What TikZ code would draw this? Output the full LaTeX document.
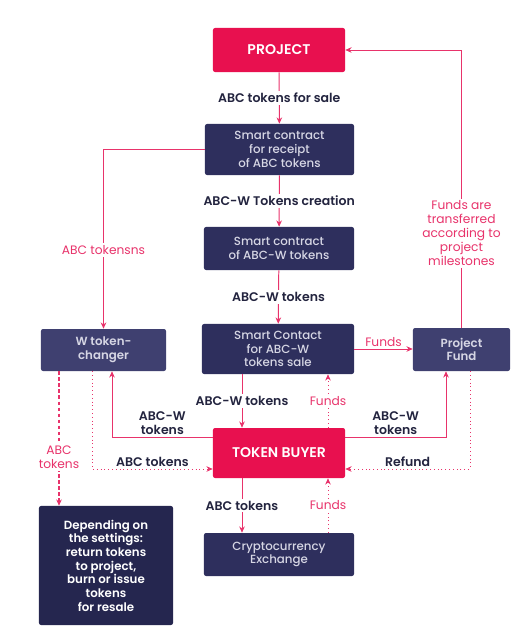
\documentclass[tikz,border=0pt]{standalone}
\usepackage{fontspec}
\setmainfont{Poppins}[BoldFont={Poppins SemiBold}]
\newfontfamily\medfont{Poppins Medium}
\usetikzlibrary{arrows.meta}
\definecolor{crimson}{HTML}{E8104F}
\definecolor{navy}{HTML}{2E2F5D}
\definecolor{navylt}{HTML}{3F4070}
\definecolor{navydk}{HTML}{25264F}
\definecolor{pinkln}{HTML}{E8336B}
\definecolor{inkdark}{HTML}{23243F}
\definecolor{boxtxt}{HTML}{D6D6E4}

\tikzset{
  box/.style={rounded corners=1.5pt, align=center, inner sep=2pt, text=boxtxt, font=\fontsize{8.4}{9.7}\selectfont\medfont},
  redbox/.style={box, fill=crimson, text=white, font=\fontsize{10}{11}\selectfont\bfseries},
  flow/.style={draw=pinkln, line width=0.7pt, -{Stealth[length=4.5pt,width=4pt]}},
  dotflow/.style={flow, dotted},
  dashflow/.style={flow, dash pattern=on 2.5pt off 1.8pt, line width=1pt},
  lbl/.style={font=\fontsize{8.9}{9.7}\selectfont\bfseries, text=inkdark, align=center, fill=white, inner sep=1.5pt},
  plbl/.style={font=\fontsize{8.7}{9.9}\selectfont, text=pinkln, align=center, fill=white, inner sep=1.5pt},
}

\begin{document}
\begin{tikzpicture}[x=0.025cm,y=-0.025cm]
        \useasboundingbox (0,0) rectangle (512,639);
        % boxes
        \node[redbox, minimum width=3.3cm, minimum height=1.1cm] (proj) at (279,50) {PROJECT};
        \node[box, fill=navy, minimum width=3.725cm, minimum height=1.275cm] (sc1) at (279.5,149.5) {Smart contract\\for receipt\\of ABC tokens};
        \node[box, fill=navy, minimum width=3.75cm, minimum height=1.075cm] (sc2) at (279,248.5) {Smart contract\\of ABC-W tokens};
        \node[box, fill=navy, minimum width=3.8cm, minimum height=1.25cm] (sc3) at (278,349) {Smart Contact\\for ABC-W\\tokens sale};
        \node[box, fill=navylt, font=\fontsize{8.4}{9.7}\selectfont\bfseries, minimum width=3.125cm, minimum height=1.05cm] (wchg) at (103.5,350) {W token-\\changer};
        \node[box, fill=navylt, font=\fontsize{8.4}{9.7}\selectfont\bfseries, minimum width=2.425cm, minimum height=1.075cm] (pfund) at (461.5,349.5) {Project\\Fund};
        \node[redbox, minimum width=3.3cm, minimum height=1.25cm] (tb) at (279,453) {TOKEN BUYER};
        \node[box, fill=navy, minimum width=3.75cm, minimum height=1.075cm] (exch) at (279,554.5) {Cryptocurrency\\Exchange};
        \node[box, fill=navydk, text=white, font=\fontsize{8.4}{9.7}\selectfont\bfseries, minimum width=3.35cm, minimum height=2.975cm] (endbox) at (106,565.5) {Depending on\\the settings:\\return tokens\\to project,\\burn or issue\\tokens\\for resale};
        % where the side lines run
        \coordinate (xl) at (242,0);
        \coordinate (xr) at (328,0);
        \coordinate (xw) at (112,0);
        \coordinate (xd) at (92,0);
        \coordinate (xdash) at (59,0);
        \coordinate (xp) at (446,0);
        \coordinate (xrf) at (470,0);
        \coordinate (yh) at (0,437);
        \coordinate (yb) at (0,469);
        % down the middle
        \draw[flow] (proj) -- node[lbl]{ABC tokens for sale} (sc1);
        \draw[flow] (sc1) -- node[lbl]{ABC-W Tokens creation} (sc2);
        \draw[flow] (sc2) -- node[lbl]{ABC-W tokens} (sc3);
        \draw[flow] (sc3.south -| xl) -- node[lbl]{ABC-W tokens} (tb.north -| xl);
        \draw[dotflow] (tb.north -| xr) -- node[plbl]{Funds} (sc3.south -| xr);
        \draw[flow] (tb.south -| xl) -- node[lbl]{ABC tokens} (exch.north -| xl);
        \draw[dotflow] (exch.north -| xr) -- node[plbl]{Funds} (tb.south -| xr);
        % left side
        \draw[flow] (sc1.west) -| node[plbl, pos=0.78]{ABC tokensns} (wchg.north);
        \draw[flow] (tb.west |- yh) -| node[lbl, above, pos=0.25, fill=none]{ABC-W\\tokens} (wchg.south -| xw);
        \draw[dotflow] (wchg.south -| xd) |- node[lbl, above, pos=0.75, fill=none]{ABC tokens} (tb.west |- yb);
        \draw[dashflow] (wchg.south -| xdash) -- node[plbl, pos=0.64]{ABC\\tokens} (endbox.north -| xdash);
        % right side
        \draw[flow] (sc3.east) -- node[plbl, above, fill=none]{Funds} (pfund.west |- sc3.east);
        \draw[flow] (pfund.north) |- node[plbl, pos=0.17]{Funds are\\transferred\\according to\\project\\milestones} (proj.east);
        \draw[flow] (tb.east |- yh) -| node[lbl, above, pos=0.25, fill=none]{ABC-W\\tokens} (pfund.south -| xp);
        \draw[dotflow] (pfund.south -| xrf) |- node[lbl, above, pos=0.75, fill=none]{Refund} (tb.east |- yb);
\end{tikzpicture}
\end{document}
